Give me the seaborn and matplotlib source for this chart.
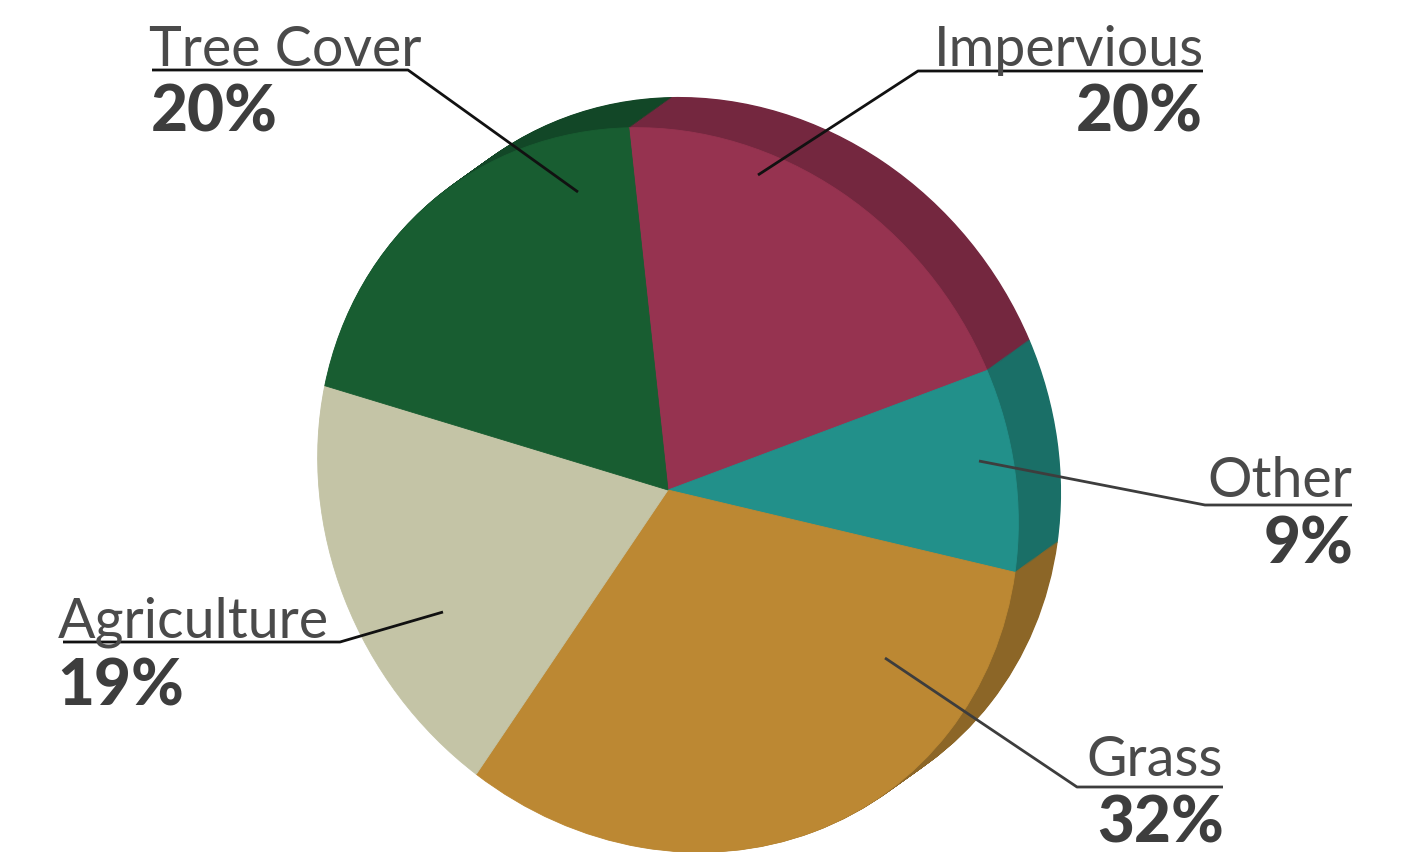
import matplotlib
matplotlib.use("Agg")
import matplotlib.pyplot as plt
import matplotlib.transforms as mtransforms
import seaborn as sns

# ---- data ----
categories = ["Impervious", "Other", "Grass", "Agriculture", "Tree Cover"]
shares = [20, 9, 32, 19, 20]
pct_labels = ["20%", "9%", "32%", "19%", "20%"]
face_colors = ["#963350", "#22908a", "#bc8833", "#c4c4a6", "#185d31"]
side_colors = ["#74273f", "#1a6f67", "#8c6627", "#96967e", "#124727"]

# ---- layout (pixel coordinates, y measured from top) ----
W, H = 1406, 853
CENTER = (668, 491)
TILT = (350, -16, -16, 362)      # affine tilt of the unit pie
DEPTH = (42, -30)                # extrusion offset
N_LAYERS = 40
START = 93.8

label_layout = {
    "Tree Cover": dict(ha="left", x=149, px=151, name_base=66, pct_base=132,
                       line=[(578, 193), (408, 71), (152, 71)], lc="#111111"),
    "Impervious": dict(ha="right", x=1204, px=1203, name_base=66, pct_base=132,
                       line=[(758, 176), (918, 72), (1203, 72)], lc="#111111"),
    "Other": dict(ha="right", x=1352, px=1353, name_base=497, pct_base=563,
                  line=[(979, 462), (1205, 506), (1352, 506)], lc="#3d3d3d"),
    "Agriculture": dict(ha="left", x=58, px=57, name_base=637, pct_base=706,
                        line=[(443, 613), (340, 643), (63, 643)], lc="#111111"),
    "Grass": dict(ha="right", x=1223, px=1224, name_base=776, pct_base=843,
                  line=[(885, 659), (1077, 788), (1223, 788)], lc="#3d3d3d"),
}

sns.set_theme(style="white")
plt.rcParams["font.family"] = ["Lato", "DejaVu Sans"]

fig = plt.figure(figsize=(W / 100, H / 100), dpi=100)
ax = fig.add_axes([0, 0, 1, 1])
ax.set_axis_off()


def Y(y):
    return H - y


def tilt_transform(dx, dy):
    a, b, c, d = TILT
    return mtransforms.Affine2D.from_values(
        a, b, c, d, CENTER[0] + dx, Y(CENTER[1]) - dy) + ax.transData


def draw_pie(colors, dx, dy, lw):
    wedges, _ = ax.pie(shares, colors=colors, startangle=START,
                       counterclock=False, radius=1, center=(0, 0),
                       wedgeprops=dict(linewidth=lw))
    tr = tilt_transform(dx, dy)
    for w, col in zip(wedges, colors):
        w.set_edgecolor(col)
        w.set_transform(tr)


# extruded side (back to front)
for k in range(N_LAYERS, 0, -1):
    t = k / N_LAYERS
    draw_pie(side_colors, DEPTH[0] * t, DEPTH[1] * t, 1.0)
# front face
draw_pie(face_colors, 0, 0, 0.6)

ax.set_aspect("auto")
ax.set_xlim(0, W)
ax.set_ylim(0, H)

# labels
for cat, pct in zip(categories, pct_labels):
    L = label_layout[cat]
    xs = [p[0] for p in L["line"]]
    ys = [Y(p[1]) for p in L["line"]]
    ax.plot(xs, ys, color=L["lc"], lw=2.0, solid_capstyle="butt", zorder=5)
    ax.text(L["x"], Y(L["name_base"]), cat, ha=L["ha"], va="baseline",
            fontsize=40, fontweight="normal", color="#4a4a4a", zorder=6)
    ax.text(L["px"], Y(L["pct_base"]), pct, ha=L["ha"], va="baseline",
            fontsize=46, fontweight="black", color="#3d3d3d", zorder=6)

fig.savefig("out.png", dpi=100, facecolor="white")
